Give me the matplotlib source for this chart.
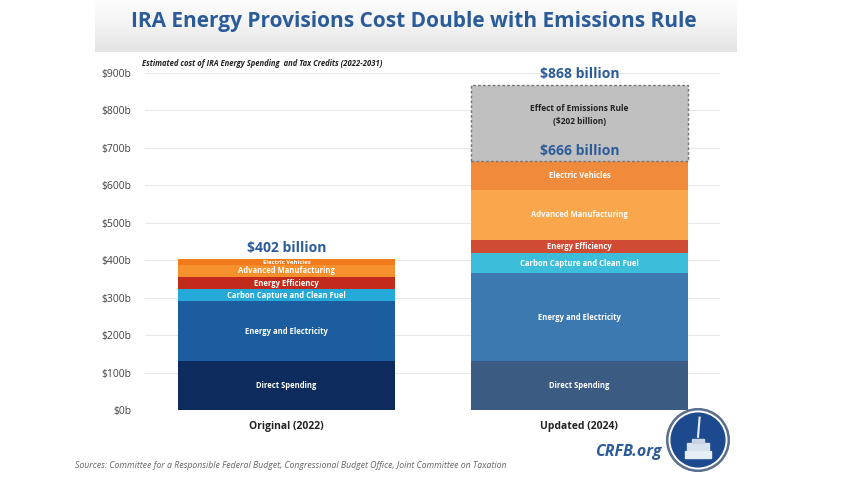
import matplotlib
matplotlib.use("Agg")
import matplotlib.pyplot as plt
import numpy as np
from matplotlib.ticker import FuncFormatter
from matplotlib.patches import Circle, Rectangle
from matplotlib.colors import LinearSegmentedColormap

plt.rcParams['font.family'] = ['Open Sans', 'DejaVu Sans']

# ---- data ----
categories = ["Original (2022)", "Updated (2024)"]
segment_names = ["Direct Spending", "Energy and Electricity", "Carbon Capture and Clean Fuel",
                 "Energy Efficiency", "Advanced Manufacturing", "Electric Vehicles"]
direct_spending = [130, 131]
energy_electricity = [161, 234]
carbon_capture = [31, 53]
energy_efficiency = [34, 36]
advanced_manufacturing = [32, 134]
electric_vehicles = [14, 78]
emissions_rule = [0, 202]
totals_labels = ["$402 billion", "$666 billion"]
grand_total_label = "$868 billion"
yticks = [0, 100, 200, 300, 400, 500, 600, 700, 800, 900]

series = [direct_spending, energy_electricity, carbon_capture,
          energy_efficiency, advanced_manufacturing, electric_vehicles]

colors = [
    ["#0d2b5c", "#1b5d9f", "#25a9d9", "#c22b1b", "#f5902c", "#f07a1c"],   # original
    ["#3b5b83", "#3d79b1", "#3cbdd9", "#cf4b34", "#f9a64c", "#f08b3c"],   # updated
]

W, H = 848, 496
fig = plt.figure(figsize=(W / 100, H / 100), dpi=100)
fig.patch.set_facecolor("white")

# header band with gradient
hax = fig.add_axes([95 / W, (H - 52) / H, 642 / W, 52 / H])
grad = np.linspace(0, 1, 100).reshape(-1, 1)
cmap = LinearSegmentedColormap.from_list("hdr", ["#fdfdfd", "#f3f3f3", "#e4e4e4"])
hax.imshow(grad, aspect="auto", cmap=cmap, extent=[0, 1, 0, 1], origin="upper")
hax.set_axis_off()
fig.text(414 / W, 1 - 22 / H, "IRA Energy Provisions Cost Double with Emissions Rule",
         ha="center", va="center", fontsize=15, fontweight="bold", color="#2b5c99")

ax = fig.add_axes([145 / W, (H - 410) / H, (720 - 145) / W, (410 - 73) / H])
x = np.arange(len(categories))
bw = 0.74
bottoms = np.zeros(len(categories))
for i, s in enumerate(series):
    vals = np.array(s, dtype=float)
    for j in range(len(categories)):
        ax.bar(x[j], vals[j], bw, bottom=bottoms[j], color=colors[j][i], zorder=3, linewidth=0)
        fs = 5.5
        if vals[j] < 20:
            fs = 4.2
        ax.text(x[j], bottoms[j] + vals[j] / 2, segment_names[i], ha="center", va="center",
                color="white", fontsize=fs, fontweight="bold", zorder=4)
    bottoms += vals

# emissions rule segment
ax.bar(x[1], emissions_rule[1], bw, bottom=bottoms[1], color="#c0c0c0", edgecolor="#777777",
       linestyle=(0, (2, 1.5)), linewidth=1.0, zorder=3)
ax.text(x[1], bottoms[1] + emissions_rule[1] * 0.6,
        "Effect of Emissions Rule\n(${} billion)".format(emissions_rule[1]),
        ha="center", va="center", fontsize=6, fontweight="bold", color="#222222", zorder=4,
        linespacing=1.6)

# total labels
ax.text(x[0], bottoms[0] + 12, totals_labels[0], ha="center", va="bottom",
        fontsize=10, fontweight="bold", color="#2b5c99", zorder=5)
ax.text(x[1], bottoms[1] + 8, totals_labels[1], ha="center", va="bottom",
        fontsize=10, fontweight="bold", color="#2b5c99", zorder=5)
ax.text(x[1], bottoms[1] + emissions_rule[1] + 10, grand_total_label, ha="center", va="bottom",
        fontsize=10, fontweight="bold", color="#2b5c99", zorder=5)

ax.set_xlim(-0.483, 1.48)
ax.set_ylim(0, 900)
ax.set_yticks(yticks)
ax.yaxis.set_major_formatter(FuncFormatter(lambda v, p: "${:d}b".format(int(v))))
ax.set_xticks(x)
ax.set_xticklabels(categories, fontsize=7.5, fontweight="bold", color="#222222")
ax.tick_params(axis="y", length=0, labelsize=7.5, labelcolor="#444444", pad=10)
ax.tick_params(axis="x", length=0, pad=8)
ax.grid(axis="y", color="#e8e8e8", linewidth=0.8, zorder=0)
for sp in ax.spines.values():
    sp.set_visible(False)

fig.text(142 / W, 1 - 64 / H, "Estimated cost of IRA Energy Spending  and Tax Credits (2022-2031)",
         ha="left", va="center", fontsize=5.5, style="italic", fontweight="bold", color="#222222")

fig.text(75 / W, 1 - 465 / H,
         "Sources: Committee for a Responsible Federal Budget, Congressional Budget Office, Joint Committee on Taxation",
         ha="left", va="center", fontsize=6.3, style="italic", color="#666666")

fig.text(662 / W, 1 - 452 / H, "CRFB.org", ha="right", va="center", fontsize=11.5,
         fontweight="bold", style="italic", color="#2b5c99")

# logo
lax = fig.add_axes([666 / W, (H - 472) / H, 64 / W, 64 / H])
lax.set_xlim(-1, 1)
lax.set_ylim(-1, 1)
lax.set_aspect("equal")
lax.set_axis_off()
lax.add_patch(Circle((0, 0), 0.98, color="#5a6f8f"))
lax.add_patch(Circle((0, 0), 0.9, color="white"))
lax.add_patch(Circle((0, 0), 0.84, color="#1d4a8e"))
lax.add_patch(Rectangle((-0.42, -0.55), 0.84, 0.22, color="#e8eef6"))
lax.add_patch(Rectangle((-0.34, -0.3), 0.68, 0.2, color="#d8e2ee"))
lax.add_patch(Rectangle((-0.2, -0.08), 0.4, 0.12, color="#c8d4e4"))
lax.plot([0.0, 0.05], [0.1, 0.7], color="#e8eef6", linewidth=1.5)

fig.savefig("out.png", dpi=100, facecolor="white")
